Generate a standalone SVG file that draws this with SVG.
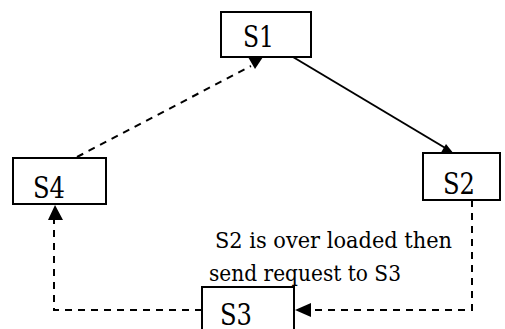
<svg xmlns="http://www.w3.org/2000/svg" width="505" height="329" viewBox="0 0 505 329">
<style>
.box{fill:#fff;stroke:#000;stroke-width:2}
.solid{fill:none;stroke:#000;stroke-width:2}
.dash{fill:none;stroke:#000;stroke-width:2;stroke-dasharray:7 6}
.head{fill:#000;stroke:none}
.t{font-family:'DejaVu Serif','Liberation Serif',serif;fill:#000}
</style>
<rect width="505" height="329" fill="#fff"/>
<g id="connectors">
<line class="solid" x1="293" y1="57" x2="447" y2="149"/>
<polygon class="head" points="458,159 439,156 446,144"/>
<line class="dash" x1="77" y1="157" x2="251" y2="66"/>
<polygon class="head" points="248,57 263,57 255,69"/>
<polyline class="dash" points="472,200 472,310 310,310"/>
<polygon class="head" points="295,310 311,303 311,317"/>
<polyline class="dash" points="202,310 54,310 54,218"/>
<polygon class="head" points="55,205 48,220 63,220"/>
</g>
<g id="label" class="t" font-size="23">
<text x="215" y="248" textLength="237" lengthAdjust="spacingAndGlyphs">S2 is over loaded then</text>
<text x="209" y="281" textLength="192" lengthAdjust="spacingAndGlyphs">send request to S3</text>
</g>
<g id="S1" class="t" font-size="29">
<rect class="box" x="221" y="12" width="90" height="45"/>
<text x="243" y="47" textLength="31" lengthAdjust="spacingAndGlyphs">S1</text>
</g>
<g id="S2" class="t" font-size="29">
<rect class="box" x="423" y="153" width="77" height="47"/>
<text x="443" y="194" textLength="32" lengthAdjust="spacingAndGlyphs">S2</text>
</g>
<g id="S4" class="t" font-size="29">
<rect class="box" x="13" y="158" width="93" height="46"/>
<text x="33" y="198" textLength="32" lengthAdjust="spacingAndGlyphs">S4</text>
</g>
<g id="S3" class="t" font-size="29">
<rect class="box" x="202" y="287" width="92" height="50"/>
<text x="220" y="325" textLength="32" lengthAdjust="spacingAndGlyphs">S3</text>
</g>
</svg>
